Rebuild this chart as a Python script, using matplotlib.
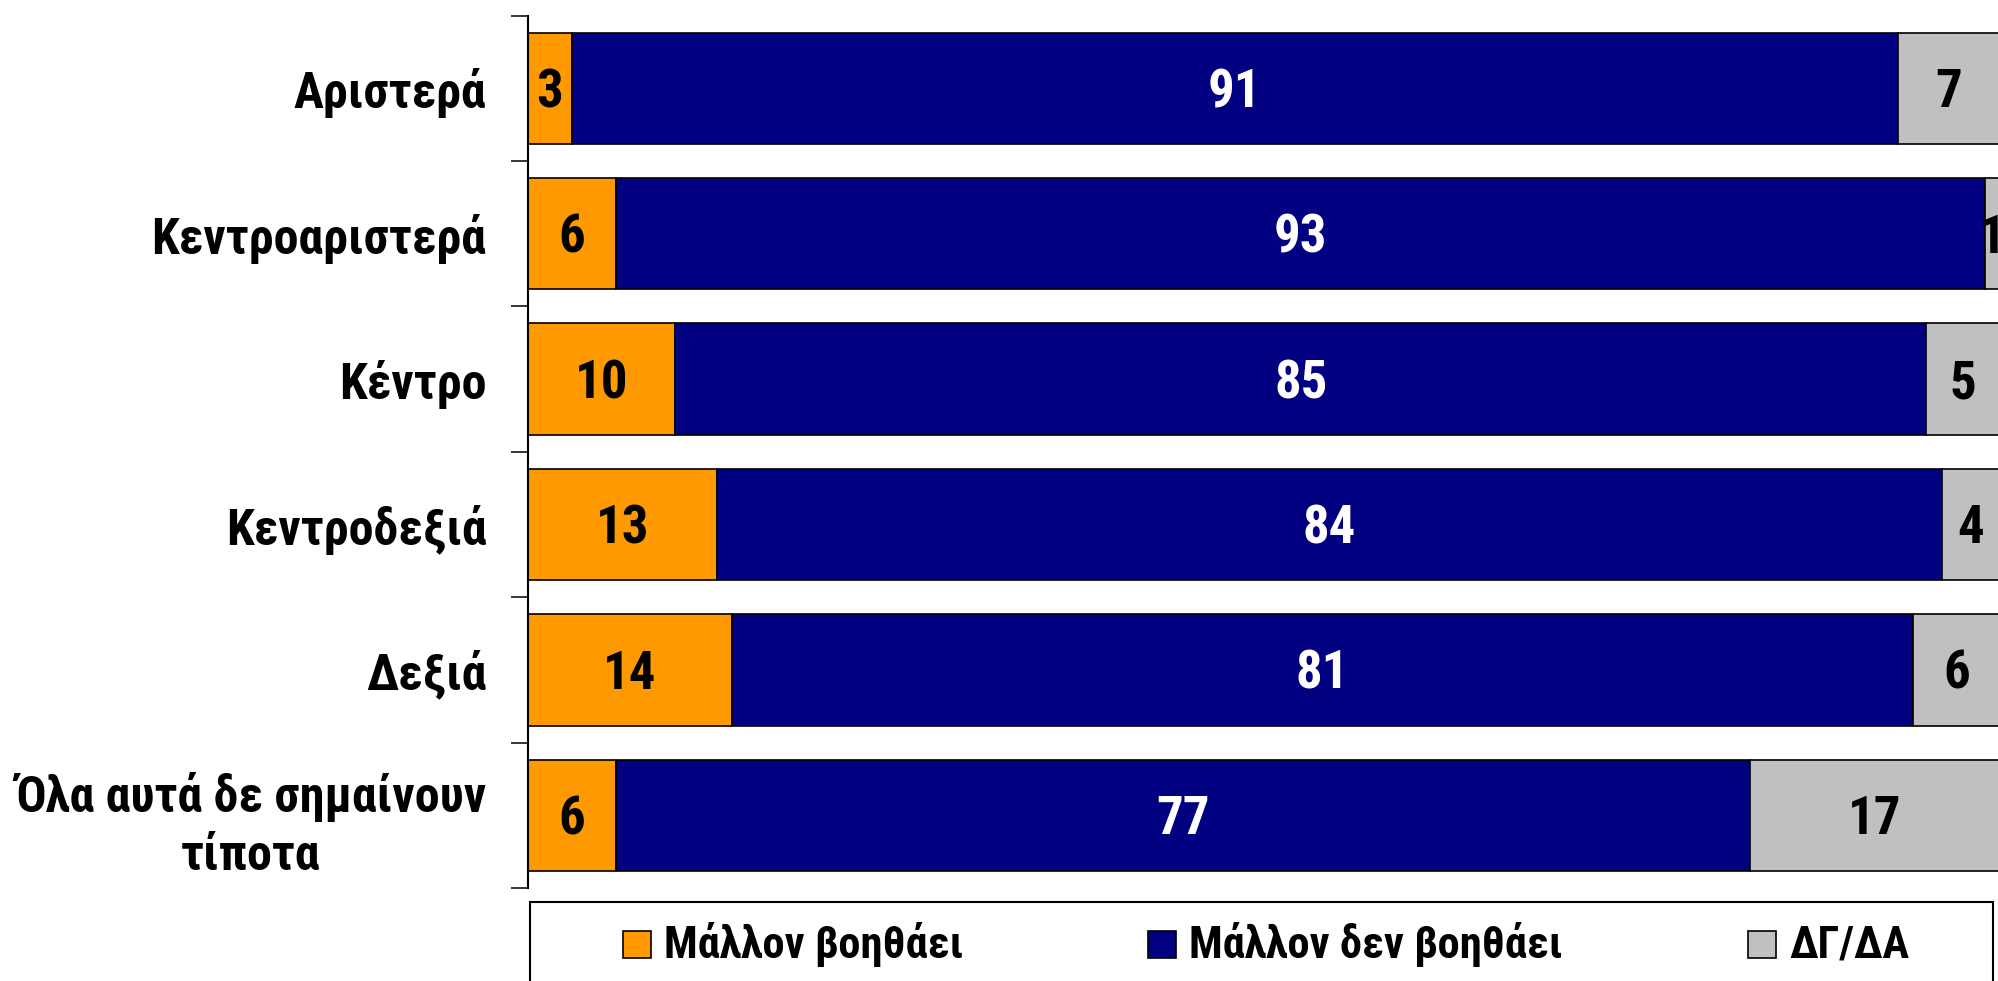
import numpy as np
import matplotlib.pyplot as plt
from matplotlib import font_manager
from matplotlib.patches import Rectangle

# Data (100% stacked bars, values as printed on the chart)
categories = ["Αριστερά", "Κεντροαριστερά", "Κέντρο", "Κεντροδεξιά", "Δεξιά",
              "Όλα αυτά δε σημαίνουν\nτίποτα"]
series_names = ["Μάλλον βοηθάει", "Μάλλον δεν βοηθάει", "ΔΓ/ΔΑ"]
helps = [3, 6, 10, 13, 14, 6]
not_helps = [91, 93, 85, 84, 81, 77]
dont_know = [7, 1, 5, 4, 6, 17]

colors = ["#FF9900", "#000080", "#C0C0C0"]
text_colors = ["black", "white", "black"]

# Pick a narrow font if there is one, otherwise Arial-like Liberation Sans
installed = {f.name for f in font_manager.fontManager.ttflist}
narrow = None
for name in ["Liberation Sans Narrow", "Arial Narrow", "Roboto Condensed"]:
    if name in installed:
        narrow = name
        break
if narrow:
    base = narrow
    label_size, num_size, leg_size = 36, 38, 32
else:
    base = "Liberation Sans"
    label_size, num_size, leg_size = 29.5, 34, 27
plt.rcParams["font.family"] = [base, "DejaVu Sans"]
plt.rcParams["font.weight"] = "bold"

W, H = 1998, 981
fig = plt.figure(figsize=(W / 100, H / 100), dpi=100)
# axes spans 0..100 % from x=528 px to x=2000 px (slightly past the right edge)
ax = fig.add_axes([528 / W, 1 - 888 / H, (2000 - 528) / W, (888 - 15.7) / H])

data = np.array([helps, not_helps, dont_know], dtype=float)
pct = data / data.sum(axis=0) * 100
y = np.arange(len(categories))

left = np.zeros(len(categories))
for i in range(3):
    ax.barh(y, pct[i], left=left, height=0.766, color=colors[i],
            edgecolor="black", linewidth=1.2)
    for j in range(len(categories)):
        ax.annotate(str(int(data[i, j])), (left[j] + pct[i, j] / 2, y[j]),
                    xytext=(0, -num_size * 0.358), textcoords="offset points",
                    ha="center", va="baseline", fontsize=num_size,
                    fontweight="bold", color=text_colors[i])
    left += pct[i]

ax.set_xlim(0, 100)
ax.set_ylim(len(categories) - 0.5, -0.5)

for s in ["top", "right", "bottom"]:
    ax.spines[s].set_visible(False)
ax.spines["left"].set_linewidth(1.5)

ax.set_xticks([])
ax.set_yticks(y)
ax.set_yticklabels(categories, fontsize=label_size, fontweight="bold")
ax.set_yticks(np.arange(-0.5, len(categories), 1), minor=True)
ax.tick_params(axis="y", which="major", length=0, pad=30)
ax.tick_params(axis="y", which="minor", length=12, width=1.1, direction="out")
last = ax.get_yticklabels()[-1]
last.set_multialignment("center")
last.set_linespacing(1.3)

# Legend box along the bottom
fig.add_artist(Rectangle((530 / W, 1 - 1000 / H), (1993 - 530) / W, (1000 - 902) / H,
                         transform=fig.transFigure, fill=False,
                         edgecolor="black", linewidth=1.5))
marker_x = [623, 1148, 1748]
for name, c, mx in zip(series_names, colors, marker_x):
    fig.add_artist(Rectangle((mx / W, 1 - 958 / H), 28 / W, 27 / H,
                             transform=fig.transFigure, facecolor=c,
                             edgecolor="black", linewidth=1.2))
    fig.text((mx + 41) / W, 1 - 958 / H, name, fontsize=leg_size, fontweight="bold",
             ha="left", va="baseline")

fig.savefig("out.png", dpi=100)
